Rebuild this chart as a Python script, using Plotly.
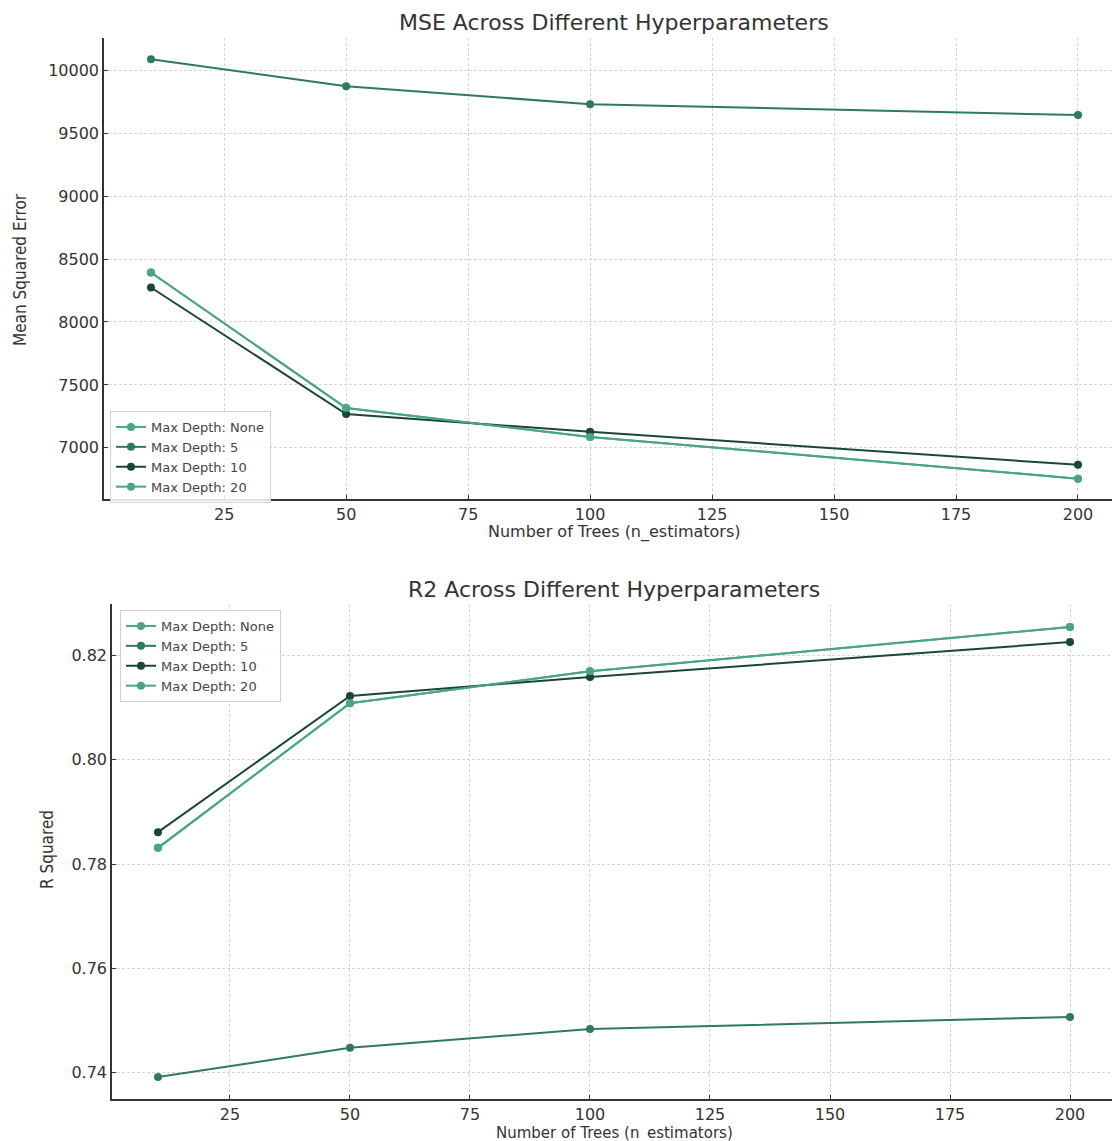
import plotly.graph_objects as go

n_estimators = [10, 50, 100, 200]
labels = ["Max Depth: None", "Max Depth: 5", "Max Depth: 10", "Max Depth: 20"]
colors = ["#4aa585", "#2e7a5e", "#1a4636", "#4aa585"]

mse_none = [8393, 7317, 7087, 6755]
mse_5 = [10087, 9873, 9731, 9644]
mse_10 = [8274, 7269, 7127, 6865]
mse_20 = [8393, 7317, 7087, 6755]

r2_none = [0.7831, 0.8108, 0.8169, 0.8254]
r2_5 = [0.7392, 0.7448, 0.7484, 0.7507]
r2_10 = [0.7861, 0.8122, 0.8158, 0.8225]
r2_20 = [0.7831, 0.8108, 0.8169, 0.8254]

W, H = 1112, 1141
FONT = "DejaVu Sans"
TXT = "#333333"

fig = go.Figure()

for vals, lab, col in zip([mse_none, mse_5, mse_10, mse_20], labels, colors):
    fig.add_trace(go.Scatter(x=n_estimators, y=vals, name=lab, mode="lines+markers",
                             line=dict(color=col, width=2), marker=dict(color=col, size=8),
                             xaxis="x", yaxis="y", legend="legend"))
for vals, lab, col in zip([r2_none, r2_5, r2_10, r2_20], labels, colors):
    fig.add_trace(go.Scatter(x=n_estimators, y=vals, name=lab, mode="lines+markers",
                             line=dict(color=col, width=2), marker=dict(color=col, size=8),
                             xaxis="x2", yaxis="y2", legend="legend2"))

ax_common = dict(showline=True, linecolor="#333333", linewidth=1.5, mirror=False,
                 ticks="inside", ticklen=4, tickcolor="#333333", tickwidth=1,
                 showgrid=True, gridcolor="#d6d6d6", griddash="3px,2px", gridwidth=1,
                 zeroline=False, tickfont=dict(family=FONT, size=16, color=TXT))

leg_common = dict(xanchor="left", yanchor="top",
                  bgcolor="rgba(255,255,255,0.85)", bordercolor="#d0d0d0", borderwidth=1,
                  font=dict(family=FONT, size=13, color="#444444"), tracegroupgap=0,
                  itemwidth=30)

fig.update_layout(
    width=W, height=H, margin=dict(l=0, r=0, t=0, b=0),
    paper_bgcolor="white", plot_bgcolor="white",
    font=dict(family=FONT, color=TXT),
    xaxis=dict(domain=[104 / W, 1.0], range=[0.37, 206.97], anchor="y",
               tickvals=[25, 50, 75, 100, 125, 150, 175, 200], **ax_common),
    yaxis=dict(domain=[1 - 499 / H, 1 - 38 / H], range=[6593.5, 10256.5], anchor="x",
               tickvals=[7000, 7500, 8000, 8500, 9000, 9500, 10000], tickformat="d",
               **ax_common),
    xaxis2=dict(domain=[112 / W, 1.0], range=[0.42, 208.75], anchor="y2",
                tickvals=[25, 50, 75, 100, 125, 150, 175, 200], **ax_common),
    yaxis2=dict(domain=[1 - 1099 / H, 1 - 604 / H], range=[0.735, 0.8298], anchor="x2",
                tickvals=[0.74, 0.76, 0.78, 0.80, 0.82], tickformat=".2f", **ax_common),
    legend=dict(x=110 / W, y=1 - 411 / H, **leg_common),
    legend2=dict(x=120 / W, y=1 - 610 / H, **leg_common),
    showlegend=True,
)

annots = [
    dict(text="MSE Across Different Hyperparameters", x=614 / W, y=1 - 22 / H, size=22),
    dict(text="R2 Across Different Hyperparameters", x=614 / W, y=1 - 589 / H, size=22),
    dict(text="Number of Trees (n_estimators)", x=614 / W, y=1 - 532 / H, size=16),
    dict(text="Number of Trees (n_estimators)", x=614 / W, y=1 - 1133 / H, size=15),
]
for a in annots:
    fig.add_annotation(text=a["text"], x=a["x"], y=a["y"], xref="paper", yref="paper",
                       showarrow=False, xanchor="center", yanchor="middle",
                       font=dict(family=FONT, size=a["size"], color=TXT))

fig.add_annotation(text="Mean Squared Error", x=20 / W, y=1 - 270 / H, xref="paper", yref="paper",
                   showarrow=False, textangle=-90, xanchor="center", yanchor="middle",
                   font=dict(family="DejaVu Sans Condensed, " + FONT, size=17, color=TXT))
fig.add_annotation(text="R Squared", x=47 / W, y=1 - 850 / H, xref="paper", yref="paper",
                   showarrow=False, textangle=-90, xanchor="center", yanchor="middle",
                   font=dict(family="DejaVu Sans Condensed, " + FONT, size=17, color=TXT))

fig.write_html("out.html", config={"displayModeBar": False},
               post_script="document.body.style.margin='0';document.body.style.padding='0';")
